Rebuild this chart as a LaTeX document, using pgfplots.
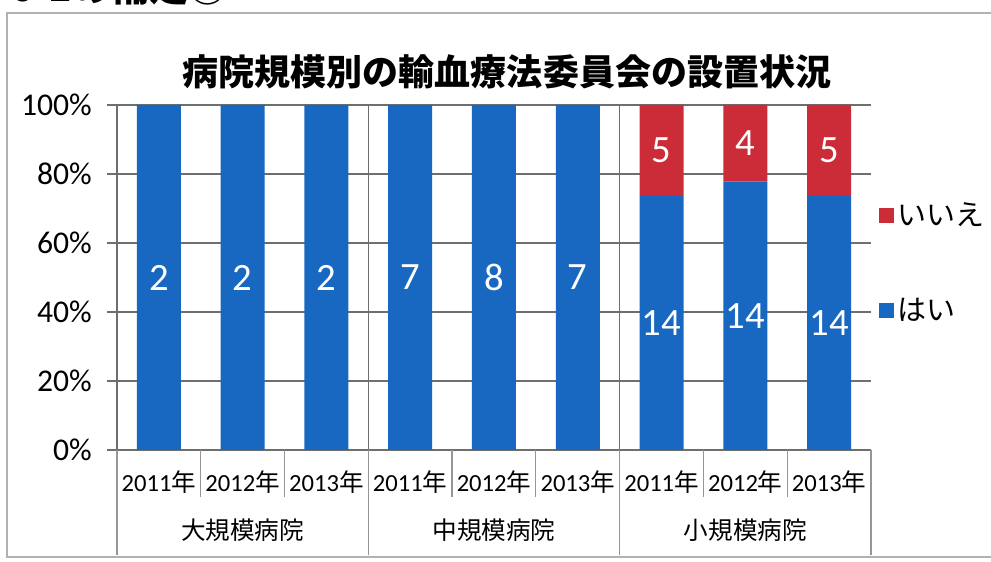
\documentclass[border=0pt]{standalone}
\usepackage{fontspec}
\setmainfont{Carlito}
\newfontfamily\jp{Noto Sans CJK JP}
\usepackage{pgfplots}
\pgfplotsset{compat=1.18}
\definecolor{barblue}{RGB}{24,104,194}
\definecolor{barred}{RGB}{204,44,56}
\definecolor{gridgray}{RGB}{110,110,110}
\definecolor{lightline}{RGB}{150,150,150}

% share of hospitals (%) and counts, はい / いいえ
\pgfplotstableread{
x yes nyes no nno
0 100 2 0 {}
1 100 2 0 {}
2 100 2 0 {}
3 100 7 0 {}
4 100 8 0 {}
5 100 7 0 {}
6 73.68 14 26.32 5
7 77.78 14 22.22 4
8 73.68 14 26.32 5
}\shares

\begin{document}
\begin{tikzpicture}
\useasboundingbox (0,0) rectangle (19.82,11.24);
\clip (0,0) rectangle (19.82,11.24);
\draw[gray!60, line width=0.8pt] (0.14,0.1) rectangle (20.5,10.98);
\node[anchor=base west, inner sep=0, font=\jp\bfseries\fontsize{22}{26}\selectfont] at (0.2,11.2) {6-1の補足①};
\node[font=\jp\bfseries\fontsize{20.5}{24}\selectfont] at (10.14,9.8) {病院規模別の輸血療法委員会の設置状況};

\begin{axis}[
    at={(2.34cm,2.24cm)}, anchor=south west,
    scale only axis, width=15.08cm, height=6.9cm,
    xmin=-0.5, xmax=8.5, ymin=0, ymax=100,
    ybar stacked, bar width=0.88cm,
    xtick={0,...,8},
    xticklabels={2011{\jp 年},2012{\jp 年},2013{\jp 年},2011{\jp 年},2012{\jp 年},2013{\jp 年},2011{\jp 年},2012{\jp 年},2013{\jp 年}},
    extra x ticks={1,4,7},
    extra x tick labels={{\jp 大規模病院},{\jp 中規模病院},{\jp 小規模病院}},
    extra x tick style={grid=none, tick label style={yshift=-0.95cm}},
    ytick={0,20,...,100},
    yticklabels={0\%,20\%,40\%,60\%,80\%,100\%},
    ymajorgrids, grid style={gridgray, line width=0.7pt},
    axis x line*=bottom, axis y line*=left,
    axis line style={gridgray, line width=0.7pt},
    tick align=outside, major tick length=0.2cm,
    ytick style={gridgray, line width=0.7pt},
    xtick style={draw=none},
    yticklabel style={font=\fontsize{18}{21}\selectfont, xshift=-0.18cm},
    xticklabel style={font=\fontsize{14}{16}\selectfont, yshift=-0.1cm},
    clip=false,
    nodes near coords, point meta=explicit symbolic,
    nodes near coords style={text=white, font=\fontsize{22}{26}\selectfont},
    legend style={draw=none, fill=none, at={(1.0,0.542)}, anchor=west,
        row sep=1.25cm, font=\jp\fontsize{16.5}{20}\selectfont,
        inner xsep=0.15cm},
    legend cell align=left,
    reverse legend,
    legend image code/.code={\fill[#1] (0cm,-0.15cm) rectangle (0.3cm,0.15cm);},
]
\addplot[fill=barblue, draw=none] table[x=x, y=yes, meta=nyes] {\shares};
\addlegendentry{はい}
\addplot[fill=barred, draw=none] table[x=x, y=no, meta=nno] {\shares};
\addlegendentry{いいえ}

% group and category dividers
\draw[gridgray, line width=0.7pt] (axis cs:2.5,0) -- (axis cs:2.5,100);
\draw[gridgray, line width=0.7pt] (axis cs:5.5,0) -- (axis cs:5.5,100);
\pgfplotsinvokeforeach{0.5,1.5,3.5,4.5,6.5,7.5}{
  \draw[lightline, line width=0.7pt] (axis cs:#1,0) -- (axis cs:#1,-13.6);
}
\pgfplotsinvokeforeach{-0.5,2.5,5.5,8.5}{
  \draw[lightline, line width=0.7pt] (axis cs:#1,0) -- (axis cs:#1,-30.4);
}
\end{axis}
\end{tikzpicture}
\end{document}
